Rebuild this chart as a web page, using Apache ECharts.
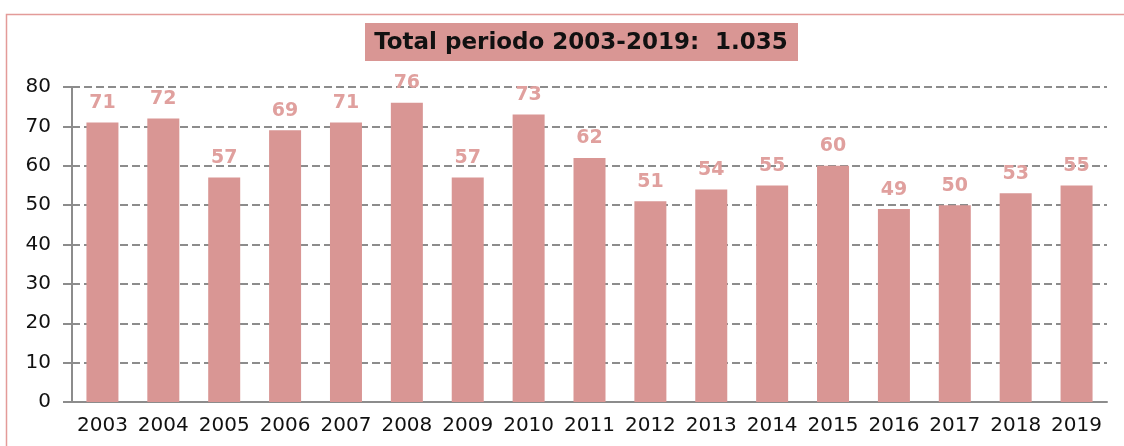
<!DOCTYPE html>
<html>
<head>
<meta charset="utf-8">
<script src="https://cdn.jsdelivr.net/npm/echarts@6/dist/echarts.min.js"></script>
<style>
  html, body { margin: 0; padding: 0; background: #fff; }
  #chart { width: 1124px; height: 446px; }
</style>
</head>
<body>
<div id="chart"></div>
<script>
const years = ['2003', '2004', '2005', '2006', '2007', '2008', '2009', '2010', '2011',
  '2012', '2013', '2014', '2015', '2016', '2017', '2018', '2019']
const cases = [71, 72, 57, 69, 71, 76, 57, 73, 62, 51, 54, 55, 60, 49, 50, 53, 55]
const titleText = 'Total periodo 2003-2019:  1.035'

const pink = '#d99694'
const axisGray = '#8c8c8c'

const chart = echarts.init(document.getElementById('chart'))

chart.setOption({
  animation: false,
  backgroundColor: '#fff',
  graphic: [
    {
      // outer pink frame, only top and left edges are visible
      type: 'rect',
      shape: { x: 6.5, y: 14.5, width: 1140, height: 460 },
      style: { fill: 'none', stroke: '#e39b99', lineWidth: 1.5 },
      silent: true
    },
    {
      type: 'group',
      left: 365,
      top: 23,
      children: [
        {
          type: 'rect',
          shape: { x: 0, y: 0, width: 433, height: 38 },
          style: { fill: pink }
        },
        {
          type: 'text',
          x: 216,
          y: 20,
          style: {
            text: titleText,
            fill: '#111',
            font: 'bold 23px "DejaVu Sans"',
            align: 'center',
            verticalAlign: 'middle'
          }
        }
      ]
    }
  ],
  grid: {
    left: 72,
    right: 17,
    top: 87,
    bottom: 44
  },
  xAxis: {
    type: 'category',
    data: years,
    boundaryGap: true,
    axisLine: { lineStyle: { color: axisGray, width: 2 } },
    axisTick: { length: 7, lineStyle: { color: axisGray, width: 2 } },
    axisLabel: {
      color: '#111',
      fontFamily: 'DejaVu Sans',
      fontSize: 20,
      margin: 14,
      interval: 0
    }
  },
  yAxis: {
    type: 'value',
    min: 0,
    max: 80,
    interval: 10,
    axisLine: { show: true, lineStyle: { color: axisGray, width: 2 } },
    axisTick: { show: true, length: 9, lineStyle: { color: axisGray, width: 2 } },
    axisLabel: {
      color: '#111',
      fontFamily: 'DejaVu Sans',
      fontSize: 20,
      margin: 21
    },
    splitLine: {
      lineStyle: { color: axisGray, width: 2, type: [8, 4] }
    }
  },
  series: [{
    type: 'bar',
    data: cases,
    barWidth: 32,
    itemStyle: { color: pink },
    label: {
      show: true,
      position: 'top',
      distance: 10,
      color: '#e0a09e',
      fontFamily: 'DejaVu Sans',
      fontWeight: 'bold',
      fontSize: 19
    }
  }]
})
</script>
</body>
</html>
